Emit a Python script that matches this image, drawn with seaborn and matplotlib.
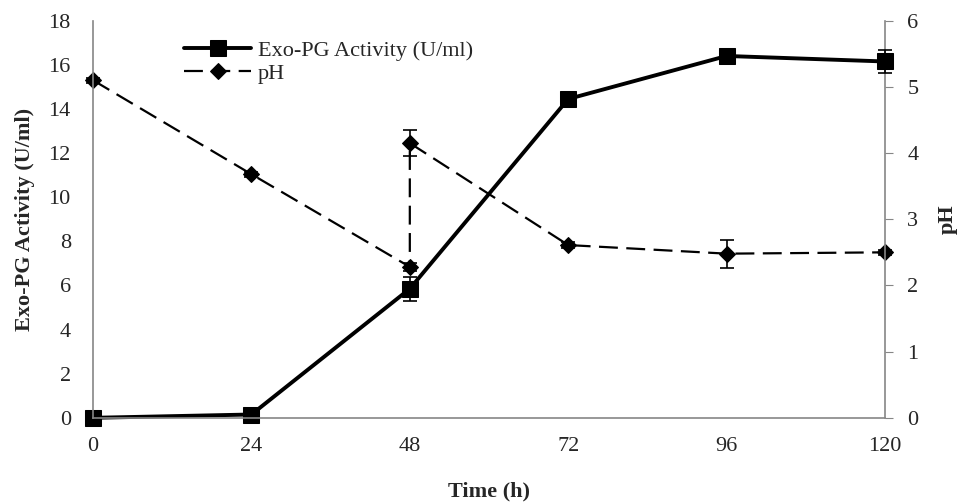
import numpy as np
import pandas as pd
import seaborn as sns
import matplotlib.pyplot as plt

# data
time_pg = [0, 24, 48, 72, 96, 120]
pg_activity = [0.0, 0.15, 5.85, 14.45, 16.4, 16.15]
pg_err = [0.05, 0.08, 0.55, 0.15, 0.12, 0.5]

time_ph = [0, 24, 48, 48, 72, 96, 120]
ph_values = [5.1, 3.68, 2.28, 4.15, 2.61, 2.48, 2.5]
ph_err = [0.04, 0.04, 0.06, 0.2, 0.04, 0.21, 0.04]

sns.set_style('white')
plt.rcParams['font.family'] = ['Liberation Serif', 'DejaVu Serif']
plt.rcParams['font.size'] = 16

df_pg = pd.DataFrame({'Time': time_pg, 'PG': pg_activity})
df_ph = pd.DataFrame({'Time': time_ph, 'pH': ph_values})

fig, ax = plt.subplots(figsize=(9.63, 5.04), dpi=100)
fig.subplots_adjust(left=0.0966, right=0.919, top=0.959, bottom=0.171)
ax2 = ax.twinx()

# pH on the secondary axis (dashed with diamonds)
sns.lineplot(data=df_ph, x='Time', y='pH', ax=ax2, sort=False, estimator=None,
             color='black', linewidth=1.6, linestyle=(0, (8.5, 3.8)),
             marker='D', markersize=8, markeredgecolor='black', label='pH',
             legend=False, clip_on=False)
ax2.errorbar(time_ph, ph_values, yerr=ph_err, fmt='none', ecolor='black',
             elinewidth=1.2, capsize=5, capthick=1.2, clip_on=False)

# Exo-PG activity on primary axis
sns.lineplot(data=df_pg, x='Time', y='PG', ax=ax, estimator=None,
             color='black', linewidth=2.8, marker='s', markersize=11,
             markeredgecolor='black', label='Exo-PG Activity (U/ml)',
             legend=False, clip_on=False)
ax.errorbar(time_pg, pg_activity, yerr=pg_err, fmt='none', ecolor='black',
            elinewidth=1.2, capsize=5, capthick=1.2, clip_on=False)

ax.set_zorder(ax2.get_zorder() + 1)
ax.patch.set_visible(False)

ax.set_xlim(0, 120)
ax.set_xticks([0, 24, 48, 72, 96, 120])
ax.set_ylim(0, 18)
ax.set_yticks(np.arange(0, 19, 2))
ax2.set_ylim(0, 6)
ax2.set_yticks(range(0, 7))

ax.set_xlabel('Time (h)', fontweight='bold', labelpad=18)
ax.set_ylabel('Exo-PG Activity (U/ml)', fontweight='bold', labelpad=10)
ax2.set_ylabel('pH', fontweight='bold', labelpad=14)

for a in (ax, ax2):
    for s in a.spines.values():
        s.set_color('#868686')
        s.set_linewidth(1.2)
    a.spines['top'].set_visible(False)
ax2.spines['left'].set_visible(False)
ax2.spines['bottom'].set_visible(False)
ax.spines['right'].set_visible(False)

ax.tick_params(axis='y', length=0, pad=16)
ax.tick_params(axis='x', length=0, pad=14)
ax2.tick_params(axis='y', length=6, color='#868686', direction='out', pad=10)

h1, l1 = ax.get_legend_handles_labels()
h2, l2 = ax2.get_legend_handles_labels()
ax.legend(h1 + h2, l1 + l2, loc='upper left', bbox_to_anchor=(0.09, 1.0),
          frameon=False, handlelength=3.0, handletextpad=0.3, labelspacing=0.08)

fig.savefig('out.png', dpi=100)
